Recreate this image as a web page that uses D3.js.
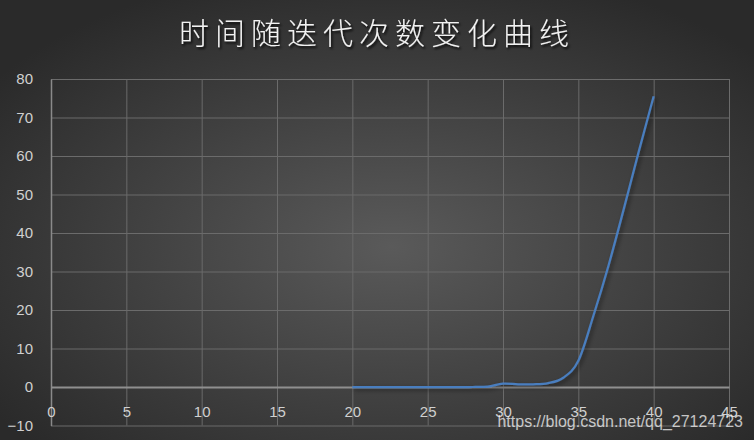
<!DOCTYPE html>
<html>
<head>
<meta charset="utf-8">
<script src="https://cdn.jsdelivr.net/npm/d3@7"></script>
<style>
  html, body { margin: 0; padding: 0; background: #333; }
  svg { display: block; }
</style>
</head>
<body>
<svg id="chart" width="754" height="440"></svg>
<script>
// ---- data ----
const titleText = "时间随迭代次数变化曲线";
const iterations = [20, 21, 22, 23, 24, 25, 26, 27, 28, 29, 30, 31, 32, 33, 34, 35, 36, 37, 38, 39, 40];
const times      = [0, 0, 0, 0, 0, 0, 0, 0, 0, 0.1, 0.85, 0.7, 0.7, 1.0, 2.4, 6.8, 18.5, 31.5, 46, 61, 75.5];
const xTicks = [0, 5, 10, 15, 20, 25, 30, 35, 40, 45];
const yTicks = [-10, 0, 10, 20, 30, 40, 50, 60, 70, 80];
const watermark = "https://blog.csdn.net/qq_27124723";

const W = 754, H = 440;
const plot = { left: 51, right: 729, top: 79, bottom: 425.5 };

const svg = d3.select("#chart");
const defs = svg.append("defs");

const bg = defs.append("radialGradient").attr("id", "bg")
  .attr("cx", "52%").attr("cy", "56%").attr("r", "65%");
bg.append("stop").attr("offset", "0%").attr("stop-color", "#5a5a5a");
bg.append("stop").attr("offset", "100%").attr("stop-color", "#2a2a2a");

const sh = defs.append("filter").attr("id", "lineShadow")
  .attr("x", "-10%").attr("y", "-10%").attr("width", "130%").attr("height", "130%");
sh.append("feDropShadow").attr("dx", 2).attr("dy", 2).attr("stdDeviation", 2)
  .attr("flood-color", "#000").attr("flood-opacity", 0.5);

const tsh = defs.append("filter").attr("id", "titleShadow")
  .attr("x", "-10%").attr("y", "-30%").attr("width", "120%").attr("height", "160%");
tsh.append("feDropShadow").attr("dx", 1.5).attr("dy", 2).attr("stdDeviation", 1.2)
  .attr("flood-color", "#000").attr("flood-opacity", 0.85);

svg.append("rect").attr("width", W).attr("height", H).attr("fill", "url(#bg)");

const x = d3.scaleLinear().domain([0, 45]).range([plot.left, plot.right]);
const y = d3.scaleLinear().domain([-10, 80]).range([plot.bottom, plot.top]);

// horizontal gridlines
svg.append("g").attr("class", "ygrid")
  .attr("transform", `translate(${plot.left},0)`)
  .call(d3.axisLeft(y).tickValues(yTicks).tickSize(-(plot.right - plot.left)).tickFormat(""))
  .call(g => g.select(".domain").remove())
  .call(g => g.selectAll("line").attr("stroke", "#6b6b6b").attr("stroke-width", 1));

// vertical gridlines
svg.append("g").attr("class", "xgrid")
  .attr("transform", `translate(0,${plot.bottom})`)
  .call(d3.axisBottom(x).tickValues(xTicks).tickSize(-(plot.bottom - plot.top)).tickFormat(""))
  .call(g => g.select(".domain").remove())
  .call(g => g.selectAll("line").attr("stroke", "#6b6b6b").attr("stroke-width", 1));

// y axis labels + axis line
svg.append("g").attr("class", "yaxis")
  .attr("transform", `translate(${plot.left},0)`)
  .call(d3.axisLeft(y).tickValues(yTicks).tickSize(0).tickPadding(18))
  .call(g => g.select(".domain").attr("stroke", "#8a8a8a").attr("stroke-width", 1.5))
  .call(g => g.selectAll("text").attr("fill", "#d0d0d0")
    .style("font-family", "'Liberation Sans', Arial, sans-serif").style("font-size", "15px"));

// x axis (at y = 0) with labels below
svg.append("g").attr("class", "xaxis")
  .attr("transform", `translate(0,${y(0)})`)
  .call(d3.axisBottom(x).tickValues(xTicks).tickSize(0).tickPadding(19))
  .call(g => g.select(".domain").attr("stroke", "#8f8f8f").attr("stroke-width", 2))
  .call(g => g.selectAll("text").attr("fill", "#d0d0d0")
    .style("font-family", "'Liberation Sans', Arial, sans-serif").style("font-size", "15px"));

// line
const pts = iterations.map((d, i) => [d, times[i]]);
const line = d3.line().x(d => x(d[0])).y(d => y(d[1])).curve(d3.curveCardinal.tension(0));
svg.append("path").datum(pts)
  .attr("d", line)
  .attr("fill", "none")
  .attr("stroke", "#4a7ebf")
  .attr("stroke-width", 2.25)
  .attr("filter", "url(#lineShadow)");

// title
svg.append("text")
  .attr("x", 377).attr("y", 44)
  .attr("text-anchor", "middle")
  .attr("fill", "#f2f2f2")
  .attr("filter", "url(#titleShadow)")
  .style("font-family", "'Noto Sans CJK SC', sans-serif")
  .style("font-size", "30px")
  .style("font-weight", 300)
  .style("letter-spacing", "6px")
  .text(titleText);

// watermark
svg.append("text")
  .attr("x", 743).attr("y", 427)
  .attr("text-anchor", "end")
  .attr("fill", "rgba(255,255,255,0.72)")
  .style("font-family", "'Liberation Sans', Arial, sans-serif")
  .style("font-size", "16px")
  .text(watermark);
</script>
</body>
</html>
